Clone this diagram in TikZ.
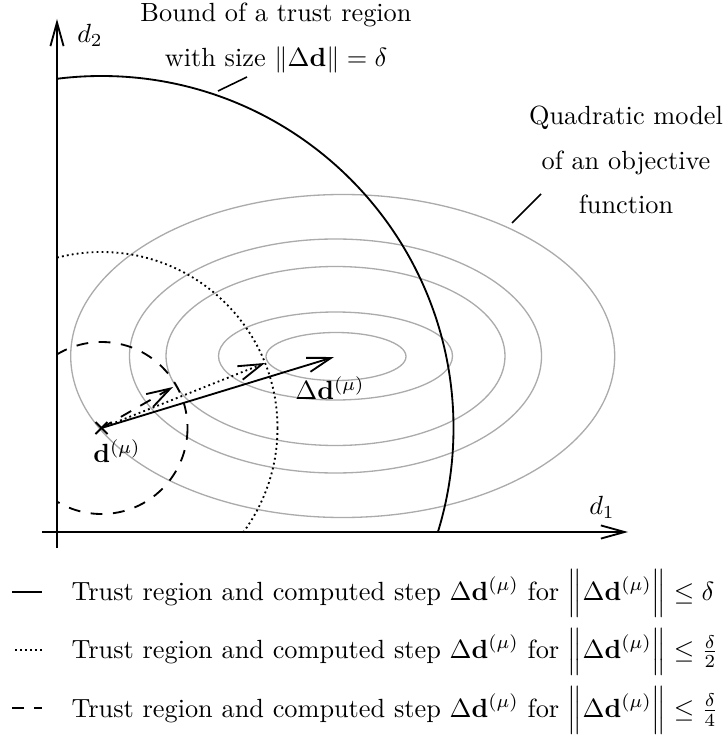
\documentclass[tikz,border=0pt]{standalone}
\usepackage{amsmath}
\usetikzlibrary{arrows.meta}
\begin{document}
\begin{tikzpicture}[x={(0.3802pt,0)}, y={(0,-0.3802pt)},
  axis/.style={line width=0.7pt, -{Straight Barb[length=9pt,width=5pt]}},
  vec/.style={line width=0.7pt, -{Straight Barb[length=9pt,width=5.5pt]}},
  contour/.style={draw=black!33, line width=0.5pt},
  bound/.style={line width=0.7pt},
  dotline/.style={line width=0.7pt, dash pattern=on 0.7pt off 1.2pt},
  dashline/.style={line width=0.7pt, dash pattern=on 4.5pt off 4pt},
  leader/.style={line width=0.6pt},
  lbl/.style={inner sep=0pt},
  legtext/.style={inner sep=0pt, anchor=base west}]
\useasboundingbox (0,0) rectangle (728,738);

% quadratic model contours
\draw[contour] (336,356.5) ellipse (70 and 24);
\draw[contour] (335.5,356) ellipse (117 and 44);
\draw[contour] (335.5,356) ellipse (169.5 and 89.5);
\draw[contour] (335.5,356) ellipse (206 and 117);
\draw[contour] (342.7,356) ellipse (272 and 161.5);

% current point
\coordinate (D) at (101.5,428);

% trust regions, clipped to the quadrant
\begin{scope}
  \clip (57,0) rectangle (728,532);
  \draw[bound] (D) circle (352);
  \draw[dotline] (D) circle (176);
  \draw[dashline] (D) circle (86);
\end{scope}

% axes
\coordinate (Y0) at (57,548);
\coordinate (Y1) at (57,19);
\coordinate (X0) at (42,532);
\coordinate (X1) at (628,532);
\draw[axis] (Y0) -- (Y1);
\draw[axis] (X0) -- (X1);
\node[lbl] (d2) at (90,35) {$d_2$};
\node[lbl] (d1) at (602,507) {$d_1$};

% steps
\coordinate (S1) at (334,357);
\coordinate (S2) at (265,363);
\coordinate (S4) at (173,387);
\draw[vec] (D) -- (S1);
\draw[vec, dotline] (D) -- (S2);
\draw[vec, dashline] (D) -- (S4);

% cross at current point
\draw[line width=0.7pt] (D) ++(-6,-6) -- ++(12,12);
\draw[line width=0.7pt] (D) ++(-6,6) -- ++(12,-12);

\node[lbl] (dmu) at (117,451) {$\mathbf{d}^{(\mu)}$};
\node[lbl] (Ddmu) at (330,388) {$\Delta\mathbf{d}^{(\mu)}$};

% annotations
\node[align=center, inner sep=0pt] (boundlbl) at (276,38)
  {Bound of a trust region\\[5pt] with size $\|\Delta\mathbf{d}\| = \delta$};
\coordinate (bl1) at (218,91);
\coordinate (bl2) at (247,77);
\draw[leader] (bl1) -- (bl2);

\node[align=center, inner sep=0pt] (quadlbl) at (626,160)
  {Quadratic model\\[5pt] of an objective\\[5pt] function};
\coordinate (ql1) at (512,223);
\coordinate (ql2) at (541,194);
\draw[leader] (ql1) -- (ql2);

% legend
\coordinate (L1a) at (12,592); \coordinate (L1b) at (42,592);
\coordinate (L2a) at (15,650); \coordinate (L2b) at (42,650);
\coordinate (L3a) at (12,708); \coordinate (L3b) at (42,708);
\draw[bound] (L1a) -- (L1b);
\draw[dotline] (L2a) -- (L2b);
\draw[dashline] (L3a) -- (L3b);
\node[legtext] (leg1) at (71,600)
  {Trust region and computed step $\Delta\mathbf{d}^{(\mu)}$ for $\Big\|\Delta\mathbf{d}^{(\mu)}\Big\| \le \delta$};
\node[legtext] (leg2) at (71,658.5)
  {Trust region and computed step $\Delta\mathbf{d}^{(\mu)}$ for $\Big\|\Delta\mathbf{d}^{(\mu)}\Big\| \le \frac{\delta}{2}$};
\node[legtext] (leg3) at (71,717)
  {Trust region and computed step $\Delta\mathbf{d}^{(\mu)}$ for $\Big\|\Delta\mathbf{d}^{(\mu)}\Big\| \le \frac{\delta}{4}$};
\end{tikzpicture}
\end{document}
